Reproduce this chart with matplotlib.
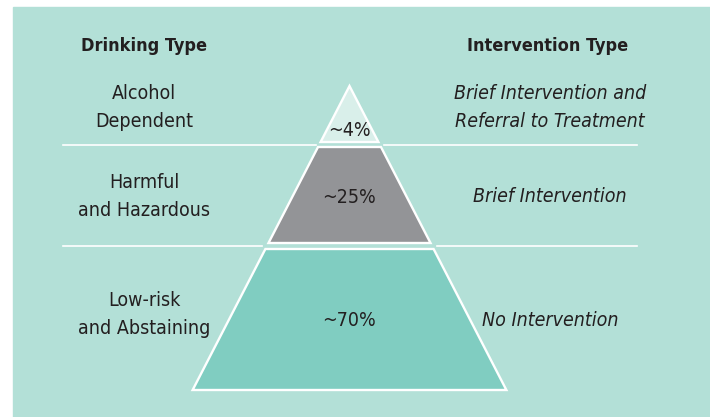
import matplotlib.pyplot as plt
from matplotlib.patches import Polygon, Rectangle

drinking_types = ["Alcohol\nDependent", "Harmful\nand Hazardous", "Low-risk\nand Abstaining"]
shares = ["~4%", "~25%", "~70%"]
interventions = ["Brief Intervention and\nReferral to Treatment", "Brief Intervention", "No Intervention"]
band_colors = ["#d9efea", "#939497", "#80cdc1"]

# layout in pixel units (y grows downward)
W, H = 710, 417
APEX_X, APEX_Y = 349.5, 86
SLOPE = 0.516
bands = [(86, 142), (147, 243), (249, 390)]
left_y = [107.5, 196, 314]
right_y = [107.5, 196, 321]
label_y = [130, 197, 320]
separators = [(145, 63, 316, 384, 637), (246, 63, 262, 437, 637)]
TXT = "#231f20"
FONT = dict(family="DejaVu Sans", fontstretch="condensed", color=TXT)


def half_width(y):
    return SLOPE * (y - APEX_Y)


def main():
    fig = plt.figure(figsize=(W / 100, H / 100), dpi=100)
    ax = fig.add_axes([0, 0, 1, 1])
    ax.set_xlim(0, W)
    ax.set_ylim(H, 0)
    ax.axis("off")

    ax.add_patch(Rectangle((13, 7), W - 13, H - 7, color="#b3e0d7", zorder=0))

    for (y0, y1), color in zip(bands, band_colors):
        w0, w1 = half_width(y0), half_width(y1)
        pts = [(APEX_X - w0, y0), (APEX_X + w0, y0),
               (APEX_X + w1, y1), (APEX_X - w1, y1)]
        ax.add_patch(Polygon(pts, closed=True, facecolor=color,
                             edgecolor="white", linewidth=1.7, joinstyle="miter", zorder=2))

    for y, l0, l1, r0, r1 in separators:
        ax.plot([l0, l1], [y, y], color="white", lw=1.2, zorder=1)
        ax.plot([r0, r1], [y, y], color="white", lw=1.2, zorder=1)

    ax.text(144, 46, "Drinking Type", ha="center", va="center", fontsize=13,
            fontweight="bold", **FONT)
    ax.text(548, 46, "Intervention Type", ha="center", va="center", fontsize=13,
            fontweight="bold", **FONT)

    for y, name in zip(left_y, drinking_types):
        ax.text(144, y, name, ha="center", va="center", fontsize=14,
                linespacing=1.6, **FONT)
    for y, name in zip(right_y, interventions):
        ax.text(550, y, name, ha="center", va="center", fontsize=14,
                style="italic", linespacing=1.6, **FONT)
    for y, s in zip(label_y, shares):
        ax.text(APEX_X, y, s, ha="center", va="center", fontsize=14,
                zorder=3, **FONT)

    fig.savefig("out.png", dpi=100)


if __name__ == "__main__":
    main()
